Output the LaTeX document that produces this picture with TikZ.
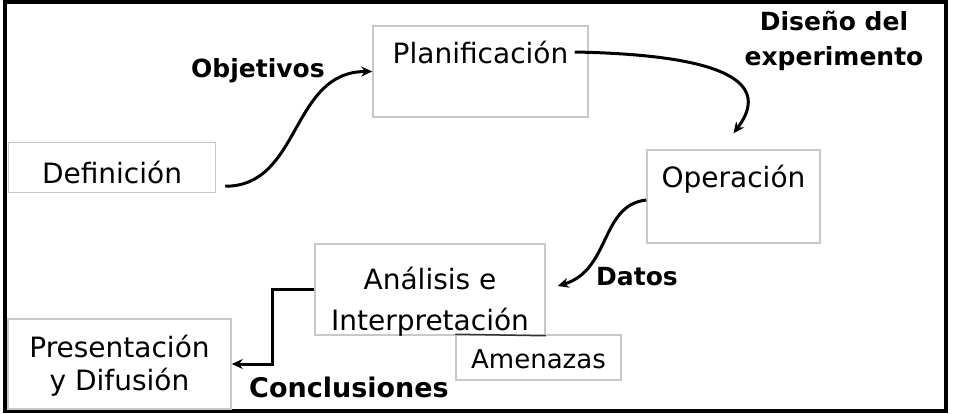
\documentclass[tikz,border=0pt]{standalone}
\usepackage{fontspec}
\setmainfont{DejaVu Sans}
\usetikzlibrary{arrows.meta, positioning}
\definecolor{marcogris}{RGB}{200,200,200}
\tikzset{
>={Stealth[length=11pt, width=10pt]}, % bold arrow heads
etapa/.style={draw=marcogris, line width=1.5pt, inner sep=0pt, align=center, font=\fontsize{28}{34}\selectfont}, % the boxes of each stage
producto/.style={inner sep=0pt, anchor=base, align=center, font=\bfseries\fontsize{25}{35}\selectfont}, % what flows between stages
flujo/.style={->, line width=3pt},
}

\begin{document}
\begin{tikzpicture}[x=1pt, y=-1pt]
      \useasboundingbox (0,0) rectangle (954,413);
      \draw[line width=3.5pt] (5,2) rectangle (946,411);

      % stages (multi-line text sits on its last line)
      \node[etapa, minimum width=207pt, text height=41pt, text depth=9pt] (def) at (112,167.5) {Definición};
      \node[etapa, minimum width=215pt, text height=37pt, text depth=54pt] (plan) at (480.5,71.5) {Planificación};
      \node[etapa, minimum width=173pt, text height=37pt, text depth=56pt] (op) at (733.5,196.5) {Operación};
      \node[etapa, minimum width=230pt, text height=86pt, text depth=5pt, font=\fontsize{28}{41}\selectfont] (ana) at (430,289.5) {Análisis e\\Interpretación};
      \node[etapa, minimum width=223pt, text height=71pt, text depth=19pt, font=\fontsize{28}{33}\selectfont] (pres) at (119.5,364) {Presentación\\y Difusión};
      \node[etapa, minimum width=165pt, text height=33pt, text depth=12pt, font=\fontsize{26}{30}\selectfont] (amen) at (538.5,357.5) {Amenazas};
      % shared edge of the two boxes
      \draw[line width=1.5pt, black!80] (amen.north west) -- (ana.south east);

      % products
      \node[producto] (obj) at (258,77) {Objetivos};
      \node[producto] (dis) at (834,65) {Diseño del\\experimento};
      \node[producto] (dat) at (637,285) {Datos};
      \node[producto, font=\bfseries\fontsize{27}{35}\selectfont] (conc) at (349,397) {Conclusiones};

      \draw[flujo] ([xshift=9pt,yshift=7pt]def.south east) .. controls +(76,0) and +(-82,0) .. (plan.west);
      \draw[flujo] ([xshift=-14pt,yshift=19.5pt]plan.east) .. controls +(156,3) and +(37,-49) .. ([yshift=16pt]op.north);
      \draw[flujo] ([yshift=-3.5pt]op.west) .. controls +(-46,5) and +(53,-16) .. ([xshift=12pt,yshift=3.5pt]ana.east);
      \draw[flujo] (ana.west) -- ++(-42,0) |- (pres.east);
    \end{tikzpicture}
\end{document}
